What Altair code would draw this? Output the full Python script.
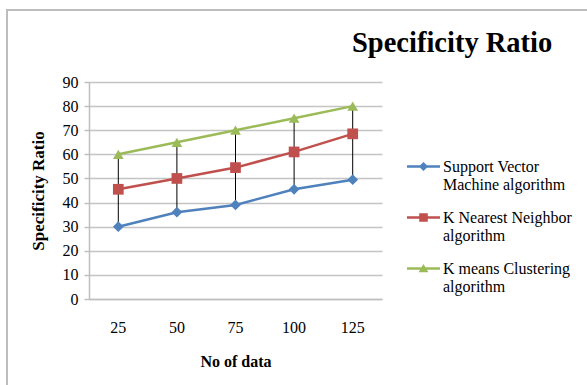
import altair as alt
import pandas as pd

categories = ["25", "50", "75", "100", "125"]
series_names = ["Support Vector|Machine algorithm",
                "K Nearest Neighbor|algorithm",
                "K means  Clustering|algorithm"]
svm = [30, 36, 39, 45.5, 49.5]
knn = [45.5, 50, 54.5, 61, 68.5]
kmeans = [60, 65, 70, 75, 80]
colors = ["#4F81BD", "#C0504D", "#9BBB59"]
y_ticks = [0, 10, 20, 30, 40, 50, 60, 70, 80, 90]

rows = []
for name, vals in zip(series_names, [svm, knn, kmeans]):
    for c, v in zip(categories, vals):
        rows.append({"cat": c, "series": name, "series_leg": name, "value": v})
df = pd.DataFrame(rows)
wide = pd.DataFrame({"cat": categories, "low": svm, "high": kmeans})

FONT = "Liberation Serif"
x_axis = alt.Axis(title="No of data", labelAngle=0, ticks=False, grid=False,
                  labelPadding=20, titlePadding=18, domainColor="#BFBFBF",
                  domainWidth=1.5)
x_enc = alt.X("cat:N", sort=categories, scale=alt.Scale(paddingInner=0, paddingOuter=0),
              axis=x_axis)
y_scale = alt.Scale(domain=[0, 90], nice=False)
y_axis = alt.Axis(title="Specificity Ratio", values=y_ticks, tickSize=5,
                  tickColor="#BFBFBF", tickWidth=1.5, gridColor="#C4C4C4",
                  gridWidth=1.5, domainColor="#BFBFBF", domainWidth=1.5,
                  labelPadding=6, titlePadding=15, labelOverlap=False,
                  titleFontSize=17)
y_enc = alt.Y("value:Q", scale=y_scale, axis=y_axis)

color_scale = alt.Scale(domain=series_names, range=colors)
marker_scale = alt.Scale(domain=series_names, range=["diamond", "square", "triangle-up"])

# legend symbols: a line with the marker in the middle
leg_paths = [
    "M-1,-0.07H1V0.07H-1Z M0,-0.28L0.28,0L0,0.28L-0.28,0Z",
    "M-1,-0.07H1V0.07H-1Z M-0.26,-0.26H0.26V0.26H-0.26Z",
    "M-1,-0.07H1V0.07H-1Z M0,-0.28L0.3,0.22L-0.3,0.22Z",
]
leg_shape_scale = alt.Scale(domain=series_names, range=leg_paths)

base = alt.Chart(df)

border = alt.Chart(wide).mark_rect(fill=None, stroke="#BDBDBD", strokeWidth=2).encode(
    x=alt.value(-82), x2=alt.value(600), y=alt.value(-72), y2=alt.value(400))

rules = alt.Chart(wide).mark_rule(color="black", strokeWidth=1).encode(
    x=x_enc, y=alt.Y("low:Q", scale=y_scale, axis=y_axis), y2="high:Q")

lines = base.mark_line(strokeWidth=2.5).encode(
    x=x_enc, y=y_enc,
    color=alt.Color("series:N", scale=color_scale, legend=None),
    detail="series:N")

points = base.mark_point(filled=True, size=115, opacity=1).encode(
    x=x_enc, y=y_enc,
    color=alt.Color("series:N", scale=color_scale, legend=None),
    shape=alt.Shape("series:N", scale=marker_scale, legend=None))

leg = alt.Legend(title=None, orient="none", legendX=318, legendY=68,
                 symbolSize=1089, symbolOpacity=1, symbolStrokeWidth=0,
                 labelFont=FONT, labelFontSize=16, labelColor="#000000",
                 labelExpr="split(datum.label, '|')", rowPadding=8,
                 labelOffset=3, padding=0, labelLimit=300)
legend_layer = base.mark_point(filled=True, opacity=0).encode(
    x=x_enc, y=y_enc,
    color=alt.Color("series_leg:N", scale=color_scale, legend=leg,
                    sort=series_names),
    shape=alt.Shape("series_leg:N", scale=leg_shape_scale, legend=leg,
                    sort=series_names))

chart = alt.layer(border, rules, lines, points, legend_layer).resolve_scale(
    color="independent", shape="independent"
).properties(
    width=293, height=217,
    autosize=alt.AutoSizeParams(type="none"),
    padding={"left": 89, "top": 82, "right": 205, "bottom": 86},
    background="white",
    title=alt.TitleParams("Specificity Ratio", font=FONT, fontSize=28.5, fontWeight="bold",
                          anchor="start", frame="group", dx=263, dy=71, offset=0,
                          baseline="alphabetic", color="#000000"),
).configure_axis(
    labelFont=FONT, labelFontSize=16, labelColor="#000000",
    titleFont=FONT, titleFontSize=16, titleFontWeight="bold", titleColor="#000000",
).configure_view(stroke=None)

chart.save("out.html", embed_options={"renderer": "svg", "actions": False})
